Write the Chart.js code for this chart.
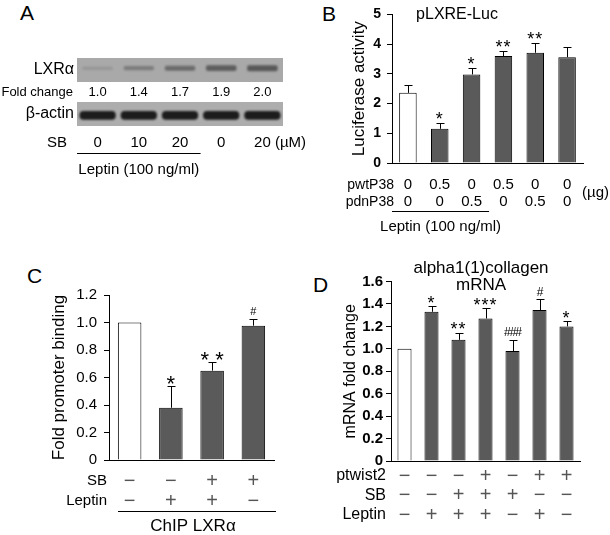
<!DOCTYPE html>
<html>
<head>
<meta charset="utf-8">
<script src="https://cdn.jsdelivr.net/npm/chart.js@4.4.1/dist/chart.umd.min.js"></script>
<style>
    html, body { margin: 0; padding: 0; background: #fff; }
    body { width: 610px; height: 535px; position: relative; overflow: hidden; font-family: "Liberation Sans", Arial, sans-serif; }
    canvas { position: absolute; }
    .letter { position: absolute; font-size: 21px; line-height: 21px; color: #000; }
</style>
</head>
<body>
<div class="letter" style="left:20px;top:2px">A</div>
<div class="letter" style="left:322px;top:3px">B</div>
<div class="letter" style="left:27px;top:265px">C</div>
<div class="letter" style="left:313px;top:274px">D</div>

<canvas id="blot-lxr" width="320" height="50" style="left:0;top:50px"></canvas>
<canvas id="blot-actin" width="320" height="85" style="left:0;top:100px"></canvas>
<canvas id="chart-luc" width="310" height="240" style="left:300px;top:0"></canvas>
<canvas id="chart-chip" width="300" height="275" style="left:0;top:260px"></canvas>
<canvas id="chart-col" width="310" height="275" style="left:300px;top:260px"></canvas>

<script>
(function () {
    'use strict';

    var FONT = '"Liberation Sans", Arial, sans-serif';
    var BAR_GREY = '#5a5a5a';
    var SYMBOL_GREY = '#555';

    // A: western blot
    var blotLanes = ['1', '2', '3', '4', '5'];
    var lxrFold = [1.0, 1.4, 1.7, 1.9, 2.0];
    var actinLevel = [1, 1, 1, 1, 1];
    var blotSB = ['0', '10', '20', '0', '20'];

    // B: pLXRE-Luc
    var lucGroups = ['1', '2', '3', '4', '5', '6'];
    var lucWt = ['0', '0.5', '0', '0.5', '0', '0'];
    var lucDn = ['0', '0', '0.5', '0', '0.5', '0'];
    var lucValues = [2.36, 1.15, 2.98, 3.6, 3.71, 3.56];
    var lucErrors = [0.26, 0.2, 0.22, 0.17, 0.33, 0.35];
    var lucMarks = ['', '*', '*', '**', '**', ''];

    // C: ChIP LXRa
    var chipGroups = ['1', '2', '3', '4'];
    var chipSB = ['\u2212', '\u2212', '+', '+'];
    var chipLeptin = ['\u2212', '+', '+', '\u2212'];
    var chipValues = [1.0, 0.38, 0.65, 0.977];
    var chipErrors = [0, 0.158, 0.063, 0.046];
    var chipMarks = ['', '*', '* *', '#'];

    // D: alpha1(1)collagen mRNA
    var colGroups = ['1', '2', '3', '4', '5', '6', '7'];
    var colPtwist = ['\u2212', '\u2212', '\u2212', '+', '\u2212', '+', '+'];
    var colSB = ['\u2212', '\u2212', '+', '+', '+', '\u2212', '\u2212'];
    var colLeptin = ['\u2212', '+', '+', '+', '\u2212', '+', '\u2212'];
    var colValues = [1.0, 1.33, 1.08, 1.27, 0.98, 1.345, 1.2];
    var colErrors = [0, 0.05, 0.065, 0.09, 0.1, 0.095, 0.048];
    var colMarks = ['', '*', '**', '***', '###', '#', '*'];

    Chart.defaults.font.family = FONT;
    Chart.defaults.color = '#000';
    Chart.defaults.animation = false;

    function text(ctx, str, x, y, size, align, opts) {
        opts = opts || {};
        ctx.save();
        ctx.font = (opts.weight || 'normal') + ' ' + size + 'px ' + FONT;
        ctx.fillStyle = opts.color || '#000';
        ctx.textAlign = align || 'center';
        ctx.textBaseline = opts.baseline || 'middle';
        if (opts.spacing) {
            ctx.letterSpacing = opts.spacing;
        }
        ctx.fillText(str, x, y);
        ctx.restore();
    }

    function textWidth(ctx, str, size) {
        ctx.save();
        ctx.font = size + 'px ' + FONT;
        var w = ctx.measureText(str).width;
        ctx.restore();
        return w;
    }

    function hline(ctx, x1, x2, y) {
        ctx.save();
        ctx.strokeStyle = '#000';
        ctx.lineWidth = 1;
        ctx.beginPath();
        ctx.moveTo(x1, y + 0.5);
        ctx.lineTo(x2, y + 0.5);
        ctx.stroke();
        ctx.restore();
    }

    function barColors(values) {
        return values.map(function (v, i) {
            return i === 0 ? '#fff' : BAR_GREY;
        });
    }

    function blotBackground(color) {
        return {
            id: 'blotBackground',
            beforeDraw: function (chart) {
                var a = chart.chartArea;
                chart.ctx.save();
                chart.ctx.fillStyle = color;
                chart.ctx.fillRect(a.left, a.top, a.right - a.left, a.bottom - a.top);
                chart.ctx.restore();
            },
            beforeDatasetsDraw: function (chart) {
                chart.ctx.save();
                chart.ctx.filter = 'blur(1px)';
            },
            afterDatasetsDraw: function (chart) {
                chart.ctx.restore();
            }
        };
    }

    // error bars + significance marks, read from dataset.errors / dataset.marks
    var errorBars = {
        id: 'errorBars',
        afterDatasetsDraw: function (chart, args, opts) {
            var ctx = chart.ctx;
            var y = chart.scales.y;
            chart.data.datasets.forEach(function (dataset, i) {
                if (!dataset.errors) {
                    return;
                }
                chart.getDatasetMeta(i).data.forEach(function (bar, j) {
                    var err = dataset.errors[j];
                    var top = y.getPixelForValue(dataset.data[j] + err);
                    if (err > 0) {
                        var x = Math.round(bar.x) + 0.5;
                        ctx.save();
                        ctx.strokeStyle = '#000';
                        ctx.lineWidth = 1;
                        ctx.beginPath();
                        ctx.moveTo(x, bar.y);
                        ctx.lineTo(x, Math.round(top) + 0.5);
                        ctx.moveTo(x - opts.cap, Math.round(top) + 0.5);
                        ctx.lineTo(x + opts.cap, Math.round(top) + 0.5);
                        ctx.stroke();
                        ctx.restore();
                    }
                    var mark = dataset.marks ? dataset.marks[j] : '';
                    if (mark) {
                        var isHash = mark.charAt(0) === '#';
                        var size = isHash ? opts.hashSize : opts.starSize;
                        var center = top - opts.gap;
                        var base = center + (isHash ? 0.35 : 0.585) * size;
                        text(ctx, mark, bar.x, base, size, 'center', {
                            baseline: 'alphabetic',
                            spacing: isHash ? opts.hashSpacing : opts.starSpacing
                        });
                    }
                });
            });
        }
    };

    function valueAxis(width, min, max, step, font, padding) {
        return {
            min: min,
            max: max,
            afterFit: function (scale) { scale.width = width; },
            ticks: { stepSize: step, font: font, padding: padding, color: '#000' },
            grid: { display: true, drawOnChartArea: false, drawTicks: true, tickLength: 5, color: '#000' },
            border: { display: true, color: '#000', width: 1 }
        };
    }

    function categoryAxis(height) {
        return {
            afterFit: function (scale) { scale.height = height; },
            ticks: { display: false },
            grid: { display: false },
            border: { display: true, color: '#000', width: 1 }
        };
    }

    function barDataset(values, errors, marks, pct) {
        return {
            data: values,
            errors: errors,
            marks: marks,
            backgroundColor: barColors(values),
            borderColor: '#000',
            borderWidth: 1,
            categoryPercentage: 1,
            barPercentage: pct
        };
    }

    function baseOptions(padding, title, yAxis, xHeight, errOpts) {
        return {
            responsive: false,
            animation: false,
            layout: { padding: padding },
            plugins: {
                legend: { display: false },
                tooltip: { enabled: false },
                errorBars: errOpts
            },
            scales: {
                x: categoryAxis(xHeight),
                y: Object.assign(yAxis, {
                    title: { display: true, text: title.text, font: { size: title.size }, color: '#000', padding: { top: 4, bottom: 4 } }
                })
            }
        };
    }

    // ---- A: blot ----
    new Chart(document.getElementById('blot-lxr'), {
        type: 'bar',
        data: {
            labels: blotLanes,
            datasets: [{
                data: lxrFold.map(function (f) { return [-f / 2, f / 2]; }),
                backgroundColor: lxrFold.map(function (f) {
                    return 'rgba(25,25,25,' + (0.14 + 0.42 * (f - 1)).toFixed(2) + ')';
                }),
                borderSkipped: false,
                borderRadius: 2,
                categoryPercentage: 1,
                barPercentage: 0.74
            }]
        },
        options: {
            responsive: false,
            layout: { padding: { left: 77, right: 37, top: 8, bottom: 18 } },
            plugins: { legend: { display: false }, tooltip: { enabled: false } },
            scales: { x: { display: false }, y: { display: false, min: -4.6, max: 3.4 } }
        },
        plugins: [blotBackground('#a9a9a9'), {
            id: 'lxrLabels',
            afterDraw: function (chart) {
                var ctx = chart.ctx;
                var x = chart.scales.x;
                text(ctx, 'LXR\u03b1', 74, 20, 16, 'right');
                text(ctx, 'Fold change', 73, 42, 13, 'right');
                lxrFold.forEach(function (f, i) {
                    text(ctx, f.toFixed(1), x.getPixelForValue(i), 42, 13, 'center');
                });
            }
        }]
    });

    new Chart(document.getElementById('blot-actin'), {
        type: 'bar',
        data: {
            labels: blotLanes,
            datasets: [{
                data: actinLevel.map(function (v) { return [-v, v]; }),
                backgroundColor: '#1c1c1c',
                borderSkipped: false,
                borderRadius: 4,
                categoryPercentage: 1,
                barPercentage: 0.88
            }]
        },
        options: {
            responsive: false,
            layout: { padding: { left: 77, right: 37, top: 2, bottom: 59 } },
            plugins: { legend: { display: false }, tooltip: { enabled: false } },
            scales: { x: { display: false }, y: { display: false, min: -2.4, max: 3.0 } }
        },
        plugins: [blotBackground('#adadad'), {
            id: 'actinLabels',
            afterDraw: function (chart) {
                var ctx = chart.ctx;
                var x = chart.scales.x;
                var half = (x.getPixelForValue(1) - x.getPixelForValue(0)) / 2;
                text(ctx, '\u03b2-actin', 74, 14, 16, 'right');
                text(ctx, 'SB', 67, 43, 15, 'right');
                blotSB.forEach(function (s, i) {
                    text(ctx, s, x.getPixelForValue(i), 43, 15, 'center');
                });
                var last = blotSB[blotSB.length - 1];
                var unitX = x.getPixelForValue(blotSB.length - 1) - textWidth(ctx, last, 15) / 2 + textWidth(ctx, last + ' ', 15);
                text(ctx, '(\u00b5M)', unitX, 43, 15, 'left');
                var x1 = x.getPixelForValue(0) - half;
                var x2 = x.getPixelForValue(2) + half;
                hline(ctx, x1, x2, 53);
                text(ctx, 'Leptin (100 ng/ml)', (x1 + x2) / 2, 70, 15, 'center');
            }
        }]
    });

    // ---- B: luciferase ----
    new Chart(document.getElementById('chart-luc'), {
        type: 'bar',
        data: { labels: lucGroups, datasets: [barDataset(lucValues, lucErrors, lucMarks, 0.55)] },
        options: baseOptions(
            { left: 45, right: 27, top: 10, bottom: 0 },
            { text: 'Luciferase activity', size: 17 },
            valueAxis(47, 0, 5, 1, { size: 14, weight: 'bold' }, 6),
            77,
            { cap: 4, gap: 8, starSize: 18, hashSize: 12, starSpacing: '1px', hashSpacing: '0px' }
        ),
        plugins: [errorBars, {
            id: 'lucLabels',
            afterDraw: function (chart) {
                var ctx = chart.ctx;
                var x = chart.scales.x;
                var area = chart.chartArea;
                var band = x.getPixelForValue(1) - x.getPixelForValue(0);
                text(ctx, 'pLXRE-Luc', 157, 15, 16, 'center');
                text(ctx, 'pwtP38', 94, 185, 14, 'right');
                text(ctx, 'pdnP38', 94, 202, 14, 'right');
                lucWt.forEach(function (s, i) {
                    text(ctx, s, x.getPixelForValue(i), 185, 15, 'center');
                });
                lucDn.forEach(function (s, i) {
                    text(ctx, s, x.getPixelForValue(i), 202, 15, 'center');
                });
                text(ctx, '(\u00b5g)', area.right - 1, 193, 15, 'left');
                var x1 = area.left;
                var x2 = x.getPixelForValue(2) + band * 0.55;
                hline(ctx, x1, x2, 211);
                text(ctx, 'Leptin (100 ng/ml)', (x1 + x2) / 2, 227, 15, 'center');
            }
        }]
    });

    // ---- C: ChIP ----
    new Chart(document.getElementById('chart-chip'), {
        type: 'bar',
        data: { labels: chipGroups, datasets: [barDataset(chipValues, chipErrors, chipMarks, 0.57)] },
        options: baseOptions(
            { left: 45, right: 26, top: 35, bottom: 0 },
            { text: 'Fold promoter binding', size: 17 },
            valueAxis(64, 0, 1.2, 0.2, { size: 15 }, 7),
            75,
            { cap: 4, gap: 8, starSize: 22, hashSize: 11, starSpacing: '0px', hashSpacing: '0px' }
        ),
        plugins: [errorBars, {
            id: 'chipLabels',
            afterDraw: function (chart) {
                var ctx = chart.ctx;
                var x = chart.scales.x;
                var area = chart.chartArea;
                text(ctx, 'SB', 107, 221, 15, 'right');
                text(ctx, 'Leptin', 107, 241, 15, 'right');
                chipSB.forEach(function (s, i) {
                    text(ctx, s, x.getPixelForValue(i), 221, 20, 'center', { color: SYMBOL_GREY });
                });
                chipLeptin.forEach(function (s, i) {
                    text(ctx, s, x.getPixelForValue(i), 241, 20, 'center', { color: SYMBOL_GREY });
                });
                hline(ctx, area.left + 9, area.right + 2, 251);
                text(ctx, 'ChIP LXR\u03b1', 193, 266, 17, 'center');
            }
        }]
    });

    // ---- D: collagen mRNA ----
    new Chart(document.getElementById('chart-col'), {
        type: 'bar',
        data: { labels: colGroups, datasets: [barDataset(colValues, colErrors, colMarks, 0.52)] },
        options: baseOptions(
            { left: 37, right: 30, top: 21.5, bottom: 0 },
            { text: 'mRNA fold change', size: 16 },
            valueAxis(54, 0, 1.6, 0.2, { size: 15, weight: 'bold' }, 3),
            74,
            { cap: 4, gap: 8, starSize: 18, hashSize: 12, starSpacing: '1px', hashSpacing: '-1px' }
        ),
        plugins: [errorBars, {
            id: 'colLabels',
            afterDraw: function (chart) {
                var ctx = chart.ctx;
                var x = chart.scales.x;
                text(ctx, 'alpha1(1)collagen', 181, 8, 17, 'center');
                text(ctx, 'mRNA', 181, 25, 17, 'center');
                text(ctx, 'ptwist2', 86, 216, 16, 'right');
                text(ctx, 'SB', 86, 236, 16, 'right');
                text(ctx, 'Leptin', 86, 255, 16, 'right');
                [colPtwist, colSB, colLeptin].forEach(function (row, r) {
                    row.forEach(function (s, i) {
                        text(ctx, s, x.getPixelForValue(i), 216 + r * 19.5, 20, 'center', { color: SYMBOL_GREY });
                    });
                });
            }
        }]
    });
})();
</script>
</body>
</html>
